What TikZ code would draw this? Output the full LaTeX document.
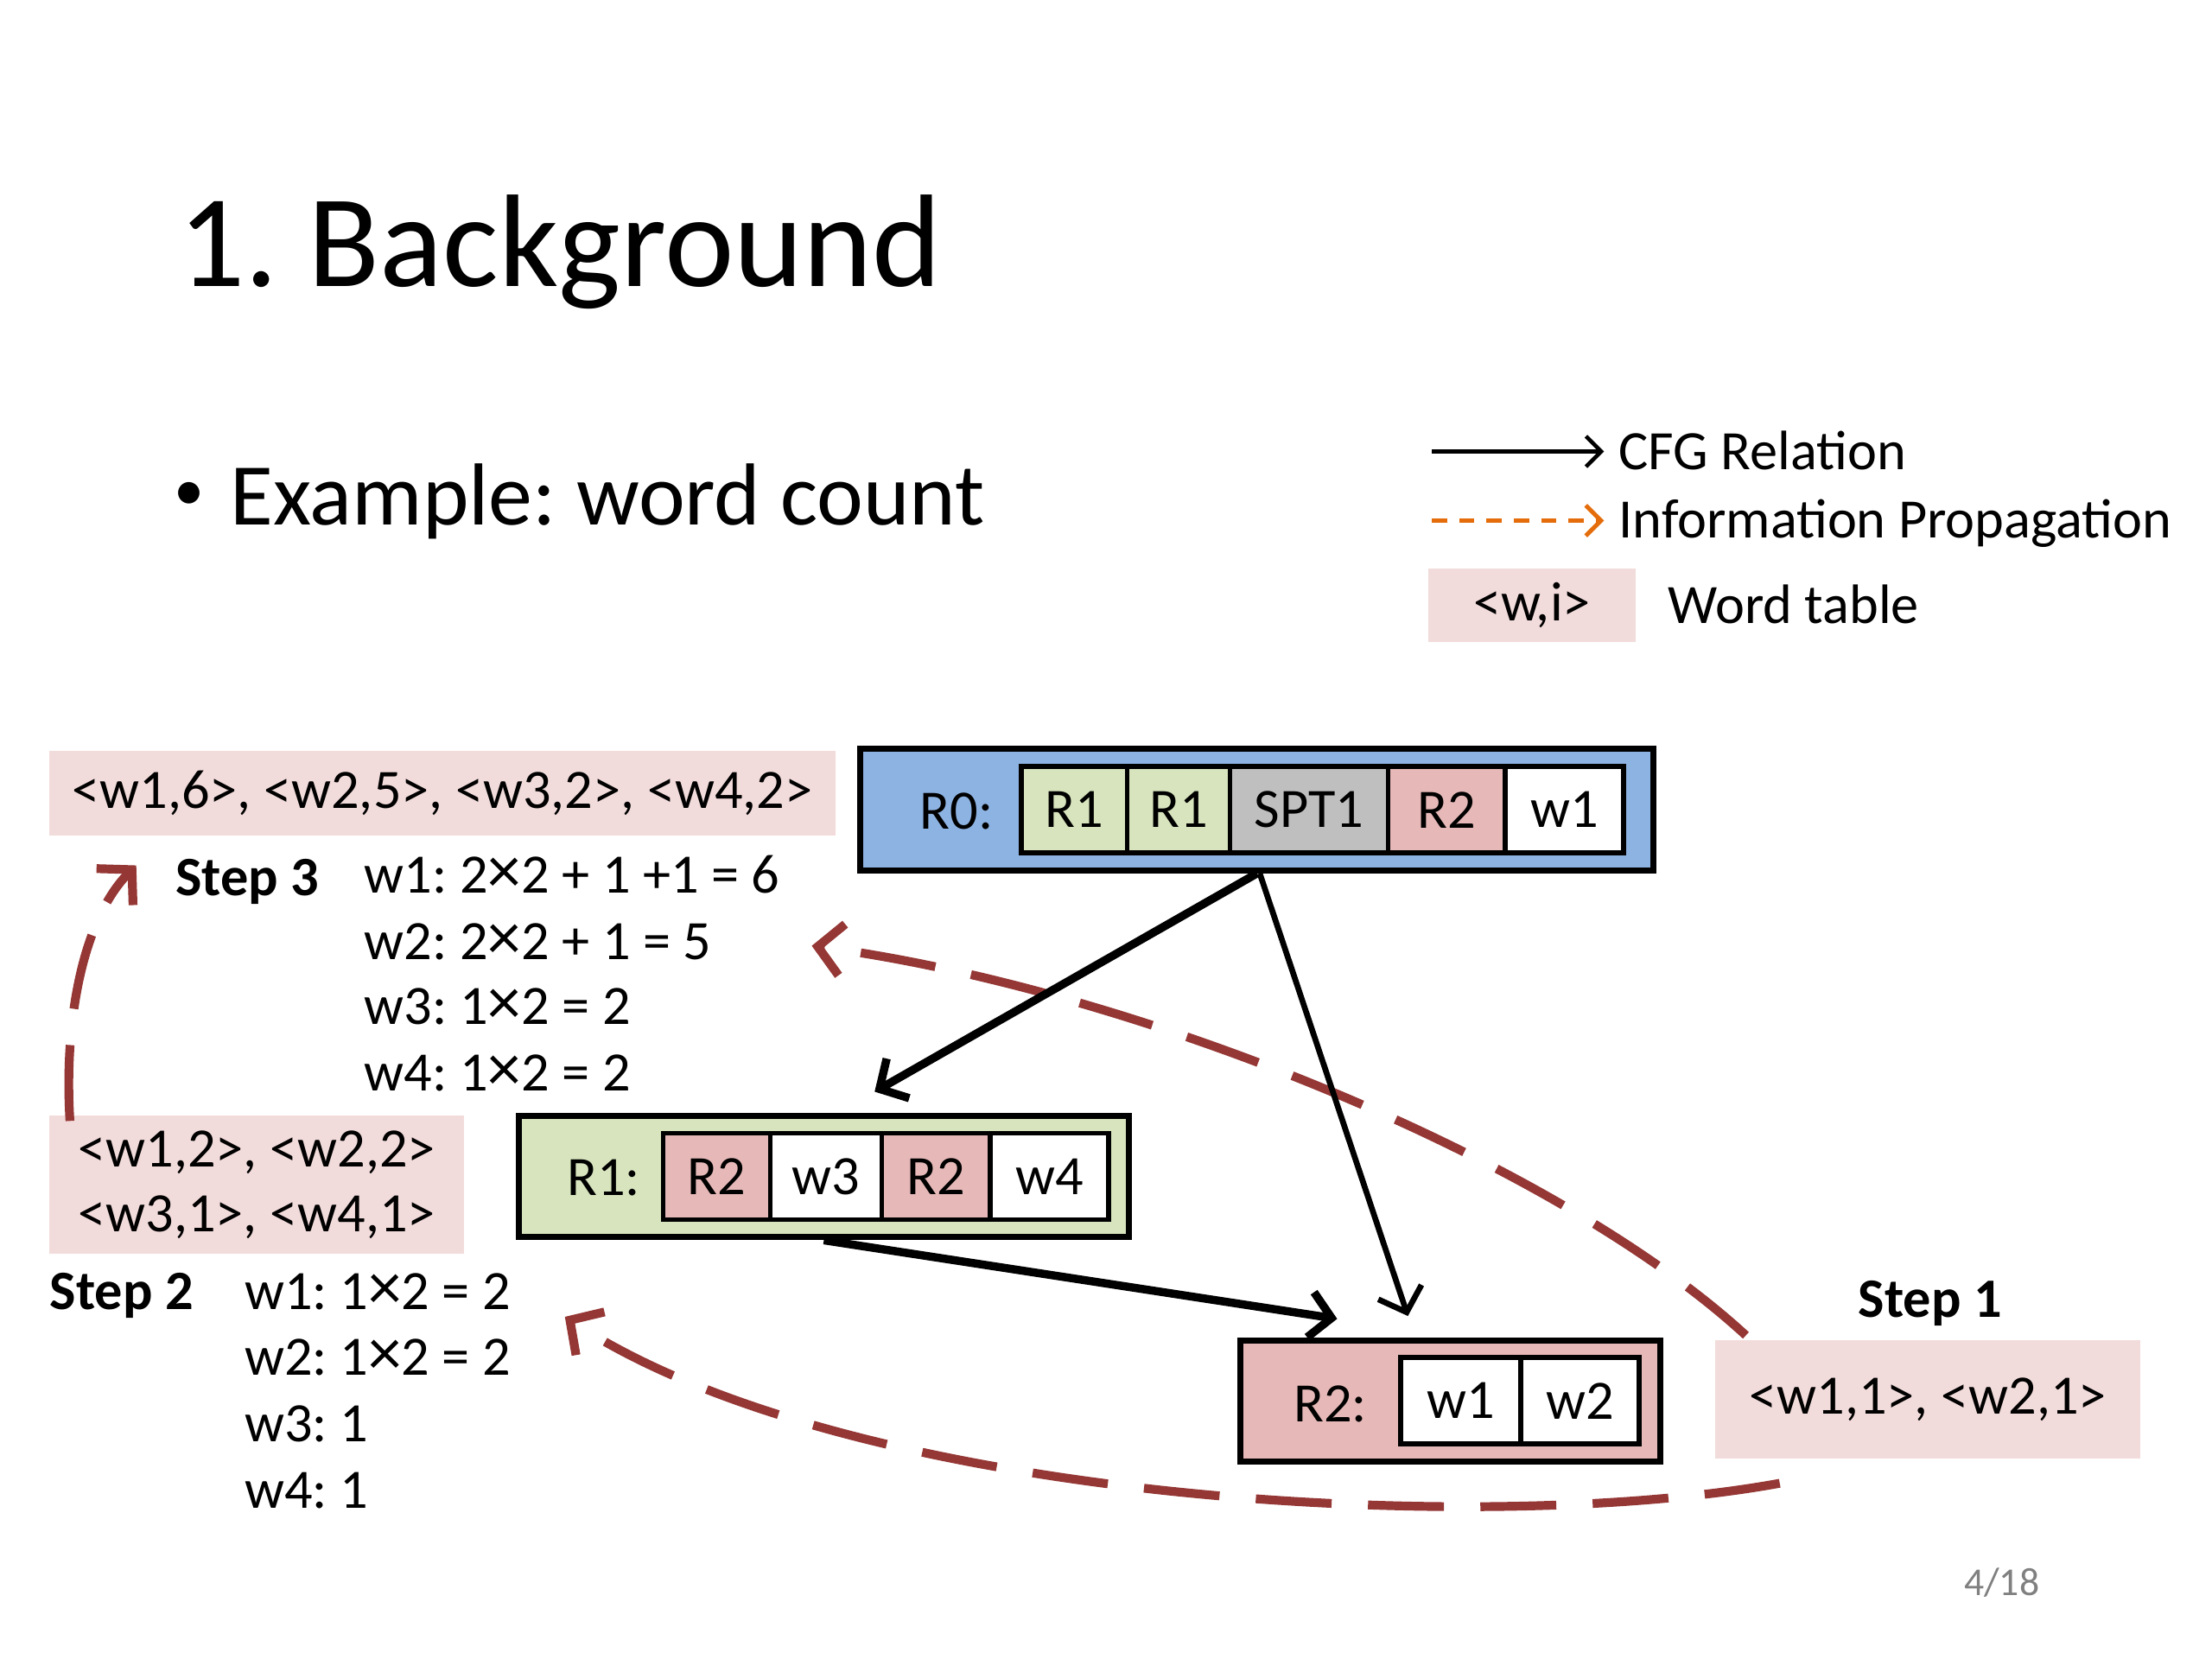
\documentclass[tikz,border=0pt]{standalone}
\usepackage{fontspec}
\setmainfont{Carlito}
\frenchspacing
\usetikzlibrary{calc}
\usetikzlibrary{positioning}
\usetikzlibrary{arrows.meta}

\definecolor{rblue}{HTML}{8DB3E2}
\definecolor{rgreen}{HTML}{D7E4BD}
\definecolor{rgray}{HTML}{BFBFBF}
\definecolor{rpink}{HTML}{E6B9B8}
\definecolor{wtpink}{HTML}{F2DCDB}
\definecolor{propred}{HTML}{953735}
\definecolor{proporange}{HTML}{E46C0A}

\newcommand{\mulx}{{\fontsize{22}{22}\selectfont ×}}

\tikzset{
  rule/.style={draw, line width=2pt, minimum height=1.404cm, inner sep=0pt},
  cell/.style={draw, line width=1.6pt, minimum height=1.0cm, inner sep=0pt, outer sep=0pt, anchor=west},
  wtable/.style={fill=wtpink, inner sep=0pt},
  txt/.style={inner sep=0pt, anchor=base west},
  cfg/.style={line width=2.7pt, -{Straight Barb[length=7pt,width=15pt]}},
  prop/.style={propred, line width=2.9pt, dash pattern=on 25pt off 12pt, -{Straight Barb[length=8pt,width=17pt]}},
}

\begin{document}
\begin{tikzpicture}[x=0.016327cm, y=-0.016327cm, font=\fontsize{18.3}{22}\selectfont]
    \useasboundingbox (0,0) rectangle (1568,1176);

    % title and bullet
    \node[txt, font=\fontsize{43.4}{52}\selectfont] (title) at (126,203) {1. Background};
    \node[font=\fontsize{20}{24}\selectfont, inner sep=0pt] (bullet) at (134,352) {\textbullet};
    \node[txt, font=\fontsize{29}{34}\selectfont] (example) at (163,372) {Example: word count};

    % legend
    \node[txt] (lcfg) at (1147,333) {CFG Relation};
    \node[txt] (lprop) at (1147,381) {Information Propagation};
    \node[wtable, minimum width=2.40cm, minimum height=0.849cm] (lwt) at (1086,429) {<w,i>};
    \node[txt] (lword) at (1182,442) {Word table};
    \draw[line width=1.3pt, -{Straight Barb[length=5pt,width=10pt]}]
        ($(lcfg.base west)+(-132,-13)$) -- ($(lcfg.base west)+(-10,-13)$);
    \draw[proporange, line width=1.4pt, dash pattern=on 5pt off 4pt, -{Straight Barb[length=5pt,width=10pt]}]
        ($(lprop.base west)+(-132,-12)$) -- ($(lprop.base west)+(-10,-12)$);

    % R0
    \node[rule, fill=rblue, minimum width=9.176cm] (r0) at (891,574) {};
    \node (r0lab) at (678,575) {R0:};
    \node[cell, fill=rgreen, minimum width=1.224cm] (r0a) at (724,574) {R1};
    \node[cell, fill=rgreen, minimum width=1.192cm, right=0pt of r0a] (r0b) {R1};
    \node[cell, fill=rgray, minimum width=1.829cm, right=0pt of r0b] (r0c) {SPT1};
    \node[cell, fill=rpink, minimum width=1.355cm, right=0pt of r0c] (r0d) {R2};
    \node[cell, fill=white, minimum width=1.371cm, right=0pt of r0d] (r0e) {w1};

    % R1
    \node[rule, fill=rgreen, minimum width=7.053cm] (r1) at (584,834) {};
    \node (r1lab) at (428,835) {R1:};
    \node[cell, fill=rpink, minimum width=1.241cm] (r1a) at (470,834) {R2};
    \node[cell, fill=white, minimum width=1.290cm, right=0pt of r1a] (r1b) {w3};
    \node[cell, fill=rpink, minimum width=1.257cm, right=0pt of r1b] (r1c) {R2};
    \node[cell, fill=white, minimum width=1.371cm, right=0pt of r1c] (r1d) {w4};

    % R2
    \node[rule, fill=rpink, minimum width=4.865cm] (r2) at (1028,993) {};
    \node (r2lab) at (943,995) {R2:};
    \node[cell, fill=white, minimum width=1.388cm] (r2a) at (993,993) {w1};
    \node[cell, fill=white, minimum width=1.371cm, right=0pt of r2a] (r2b) {w2};

    % word tables
    \node[wtable, minimum width=9.094cm, minimum height=0.98cm] (t0) at (313.5,562) {<w1,6>, <w2,5>, <w3,2>, <w4,2>};
    \node[wtable, minimum width=4.80cm, minimum height=1.60cm, align=left, font=\fontsize{18.3}{21.4}\selectfont] (t2) at (182,840) {<w1,2>, <w2,2>\\<w3,1>, <w4,1>};
    \node[wtable, minimum width=4.914cm, minimum height=1.371cm] (t1) at (1366.5,992) {<w1,1>, <w2,1>};

    % steps
    \node[txt, font=\fontsize{18.3}{22}\selectfont\bfseries] (step3) at (124,635) {Step 3};
    \node[txt] (s3a) at (258,633) {w1: 2\mulx2 + 1 +1 = 6};
    \node[txt] (s3b) at (258,680) {w2: 2\mulx2 + 1 = 5};
    \node[txt] (s3c) at (258,726) {w3: 1\mulx2 = 2};
    \node[txt] (s3d) at (258,773) {w4: 1\mulx2 = 2};

    \node[txt, font=\fontsize{18.3}{22}\selectfont\bfseries] (step2) at (35,928) {Step 2};
    \node[txt] (s2a) at (173,928) {w1: 1\mulx2 = 2};
    \node[txt] (s2b) at (173,975) {w2: 1\mulx2 = 2};
    \node[txt] (s2c) at (173,1022) {w3: 1};
    \node[txt] (s2d) at (173,1069) {w4: 1};

    \node[txt, font=\fontsize{18.3}{22}\selectfont\bfseries] (step1) at (1317,934) {Step 1};

    \node[text=gray, font=\fontsize{13}{16}\selectfont] (page) at (1419,1122) {4/18};

    % information propagation
    \draw[prop] ($(t1.south west)+(46,17)$) .. controls (1050,1090) and (600,1065) .. ($(t2.south east)+(71,44)$);
    \draw[prop] ($(t1.north west)+(22,-3)$) .. controls (1100,820) and (800,700) .. ($(t0.south east)+(-17,78)$);
    \draw[prop] ($(t2.north west)+(15,4)$) .. controls (45,720) and (60,650) .. ($(t0.south west)+(62,21)$);

    % CFG relation
    \draw[cfg] (r0.south) -- ($(r1.north)+(36,-15)$);
    \draw[cfg, line width=1.9pt] ($(r0.south)+(2,0)$) -- ($(r2.north)+(-30,-15)$);
    \draw[cfg] (r1.south) -- ($(r2.north west)+(71,-13)$);
\end{tikzpicture}
\end{document}
